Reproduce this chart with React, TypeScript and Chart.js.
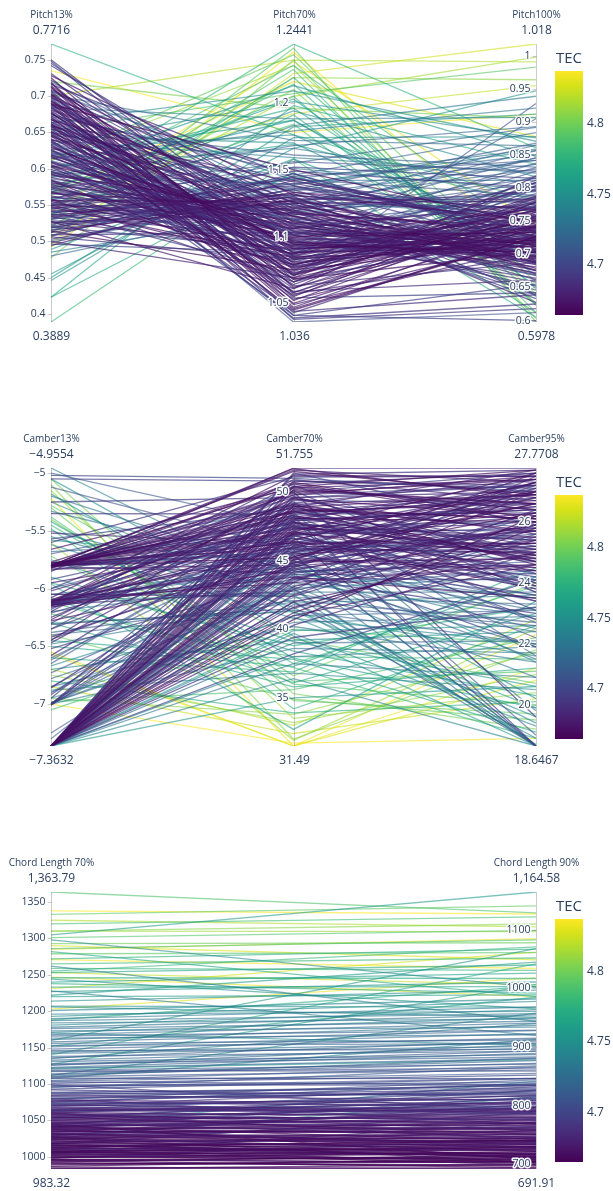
import React, { useEffect, useRef } from "react";
import { Chart, registerables } from "chart.js";

Chart.register(...registerables);

// ---------- TEC colour scale (shared by all three panels) ----------
const tecMin = 4.6645;
const tecMax = 4.8376;
const tecTicks = [4.7, 4.75, 4.8];
const viridisStops: [number, string][] = [
  [0, "#440154"], [0.0627, "#48186a"], [0.1255, "#472d7b"], [0.1882, "#424086"],
  [0.251, "#3b528b"], [0.3137, "#33638d"], [0.3765, "#2c728e"], [0.4392, "#26828e"],
  [0.502, "#21918c"], [0.5647, "#1fa088"], [0.6275, "#28ae80"], [0.6902, "#3fbc73"],
  [0.7529, "#5ec962"], [0.8157, "#84d44b"], [0.8784, "#addc30"], [0.9412, "#d8e219"],
  [1, "#fde725"],
];

// ---------- Panel 1: pitch ----------
const pitchNames = ["Pitch13%", "Pitch70%", "Pitch100%"];
const pitchMin = [0.3889, 1.036, 0.5978];
const pitchMax = [0.7716, 1.2441, 1.018];
const pitchMinText = ["0.3889", "1.036", "0.5978"];
const pitchMaxText = ["0.7716", "1.2441", "1.018"];
const pitch13Ticks = [0.4, 0.45, 0.5, 0.55, 0.6, 0.65, 0.7, 0.75];
const pitch70Ticks = [1.05, 1.1, 1.15, 1.2];
const pitch100Ticks = [0.6, 0.65, 0.7, 0.75, 0.8, 0.85, 0.9, 0.95, 1];

const pitch13 = [
  0.725, 0.718, 0.712, 0.705, 0.701, 0.696, 0.690, 0.684, 0.679, 0.673,
  0.668, 0.662, 0.657, 0.651, 0.646, 0.641, 0.636, 0.630, 0.625, 0.620,
  0.615, 0.610, 0.604, 0.599, 0.594, 0.588, 0.583, 0.577, 0.571, 0.566,
  0.561, 0.556, 0.551, 0.546, 0.541, 0.536, 0.531, 0.526, 0.521, 0.515,
  0.731, 0.722, 0.714, 0.708, 0.699, 0.693, 0.687, 0.676, 0.664, 0.655,
  0.649, 0.638, 0.627, 0.617, 0.606, 0.596, 0.585, 0.574, 0.563, 0.552,
  0.548, 0.539, 0.532, 0.524, 0.518, 0.512, 0.507, 0.503, 0.498, 0.494,
  0.712, 0.703, 0.694, 0.686, 0.678, 0.671, 0.665, 0.659, 0.645, 0.633,
  0.623, 0.609, 0.592, 0.581, 0.568, 0.558, 0.545, 0.534, 0.528, 0.519,
  0.676, 0.661, 0.648, 0.634, 0.622, 0.611, 0.597, 0.586, 0.572, 0.559,
  0.719, 0.706, 0.688, 0.672, 0.654, 0.639, 0.621, 0.603, 0.589, 0.574,
  0.455, 0.450, 0.446, 0.423, 0.489, 0.512, 0.538, 0.566, 0.592, 0.618,
  0.3889, 0.423, 0.7716, 0.566, 0.573, 0.611, 0.652, 0.720, 0.505, 0.548,
  0.492, 0.497, 0.520, 0.563, 0.735, 0.612, 0.574, 0.541, 0.529, 0.700,
  0.750, 0.748, 0.745, 0.742, 0.668, 0.655, 0.698, 0.640, 0.617, 0.681,
  0.602, 0.593, 0.584, 0.576, 0.569, 0.557, 0.547, 0.537, 0.527, 0.509,
  0.560, 0.553, 0.544, 0.535, 0.523, 0.516, 0.508, 0.501, 0.485, 0.480,
  0.728, 0.716, 0.709, 0.697, 0.689, 0.683, 0.674, 0.667, 0.659, 0.650,
  0.558, 0.550, 0.542, 0.534, 0.527, 0.520, 0.514, 0.506, 0.500, 0.496,
  0.702, 0.692, 0.681, 0.670, 0.660, 0.650, 0.640, 0.629, 0.619, 0.608,
  0.659, 0.644, 0.632, 0.618, 0.603, 0.591, 0.579, 0.567, 0.555, 0.543,
  0.702, 0.684, 0.657, 0.633, 0.614, 0.596, 0.578, 0.556, 0.537, 0.663,
  0.571, 0.534, 0.588, 0.512, 0.626, 0.548, 0.601, 0.477, 0.645, 0.520,
  0.718, 0.707, 0.690, 0.677, 0.662, 0.647, 0.637, 0.626, 0.700, 0.688,
  0.668, 0.652, 0.637, 0.624, 0.609, 0.595, 0.580, 0.565, 0.549, 0.530,
];
const pitch70 = [
  1.062, 1.068, 1.071, 1.058, 1.075, 1.066, 1.080, 1.072, 1.085, 1.078,
  1.083, 1.090, 1.076, 1.094, 1.088, 1.099, 1.081, 1.096, 1.102, 1.092,
  1.105, 1.098, 1.110, 1.101, 1.115, 1.107, 1.112, 1.119, 1.104, 1.122,
  1.117, 1.126, 1.113, 1.129, 1.121, 1.132, 1.124, 1.118, 1.135, 1.127,
  1.094, 1.101, 1.088, 1.112, 1.097, 1.106, 1.118, 1.091, 1.109, 1.115,
  1.071, 1.079, 1.066, 1.086, 1.074, 1.093, 1.082, 1.099, 1.087, 1.106,
  1.138, 1.131, 1.144, 1.125, 1.140, 1.133, 1.147, 1.128, 1.136, 1.142,
  1.052, 1.047, 1.055, 1.043, 1.058, 1.050, 1.061, 1.045, 1.056, 1.064,
  1.104, 1.097, 1.113, 1.108, 1.120, 1.101, 1.116, 1.125, 1.110, 1.130,
  1.085, 1.093, 1.078, 1.101, 1.088, 1.112, 1.095, 1.119, 1.106, 1.124,
  1.128, 1.142, 1.121, 1.151, 1.135, 1.159, 1.146, 1.166, 1.139, 1.155,
  1.166, 1.182, 1.174, 1.198, 1.158, 1.191, 1.145, 1.205, 1.169, 1.187,
  1.158, 1.148, 1.176, 1.244, 1.228, 1.236, 1.207, 1.196, 1.219, 1.184,
  1.222, 1.238, 1.205, 1.216, 1.178, 1.228, 1.192, 1.231, 1.210, 1.232,
  1.095, 1.083, 1.108, 1.118, 1.036, 1.039, 1.041, 1.044, 1.086, 1.070,
  1.073, 1.081, 1.069, 1.089, 1.077, 1.093, 1.084, 1.098, 1.091, 1.103,
  1.149, 1.143, 1.156, 1.137, 1.152, 1.130, 1.145, 1.127, 1.118, 1.123,
  1.131, 1.144, 1.125, 1.138, 1.150, 1.121, 1.147, 1.133, 1.128, 1.141,
  1.066, 1.079, 1.072, 1.085, 1.061, 1.090, 1.075, 1.083, 1.069, 1.088,
  1.111, 1.096, 1.123, 1.104, 1.117, 1.092, 1.126, 1.100, 1.114, 1.095,
  1.077, 1.115, 1.084, 1.108, 1.091, 1.120, 1.079, 1.103, 1.087, 1.111,
  1.172, 1.188, 1.161, 1.201, 1.179, 1.213, 1.168, 1.194, 1.183, 1.209,
  1.203, 1.225, 1.187, 1.241, 1.176, 1.214, 1.196, 1.232, 1.170, 1.219,
  1.049, 1.057, 1.046, 1.063, 1.053, 1.068, 1.041, 1.059, 1.054, 1.038,
  1.101, 1.126, 1.109, 1.134, 1.116, 1.139, 1.106, 1.131, 1.119, 1.143,
];
const pitch100 = [
  0.742, 0.728, 0.755, 0.768, 0.716, 0.737, 0.722, 0.749, 0.705, 0.731,
  0.719, 0.741, 0.758, 0.703, 0.726, 0.712, 0.773, 0.695, 0.733, 0.751,
  0.708, 0.724, 0.697, 0.739, 0.688, 0.715, 0.702, 0.684, 0.729, 0.693,
  0.707, 0.679, 0.722, 0.691, 0.713, 0.676, 0.699, 0.734, 0.686, 0.718,
  0.694, 0.681, 0.712, 0.669, 0.703, 0.688, 0.662, 0.721, 0.676, 0.671,
  0.786, 0.772, 0.799, 0.764, 0.781, 0.757, 0.792, 0.769, 0.803, 0.776,
  0.742, 0.758, 0.727, 0.771, 0.736, 0.749, 0.718, 0.783, 0.754, 0.739,
  0.764, 0.748, 0.779, 0.732, 0.757, 0.741, 0.769, 0.726, 0.752, 0.785,
  0.652, 0.664, 0.641, 0.672, 0.633, 0.658, 0.646, 0.627, 0.668, 0.638,
  0.812, 0.826, 0.804, 0.838, 0.819, 0.846, 0.808, 0.857, 0.831, 0.865,
  0.788, 0.812, 0.846, 0.797, 0.868, 0.823, 0.884, 0.805, 0.857, 0.892,
  0.947, 0.912, 0.878, 0.836, 0.704, 0.652, 0.731, 0.623, 0.774, 0.688,
  0.612, 0.605, 0.782, 0.861, 0.723, 0.658, 0.983, 0.906, 0.964, 0.627,
  1.018, 0.701, 0.998, 0.878, 0.912, 0.640, 0.955, 0.745, 0.625, 0.991,
  0.703, 0.721, 0.689, 0.736, 0.612, 0.625, 0.600, 0.639, 0.905, 0.928,
  0.735, 0.718, 0.744, 0.706, 0.727, 0.699, 0.738, 0.711, 0.724, 0.703,
  0.801, 0.789, 0.826, 0.765, 0.815, 0.778, 0.842, 0.757, 0.795, 0.771,
  0.752, 0.734, 0.781, 0.712, 0.745, 0.796, 0.723, 0.768, 0.706, 0.759,
  0.779, 0.752, 0.803, 0.766, 0.818, 0.741, 0.788, 0.757, 0.809, 0.771,
  0.714, 0.697, 0.728, 0.686, 0.741, 0.708, 0.675, 0.733, 0.691, 0.722,
  0.761, 0.716, 0.744, 0.702, 0.774, 0.689, 0.751, 0.727, 0.766, 0.709,
  0.864, 0.907, 0.832, 0.876, 0.921, 0.848, 0.893, 0.817, 0.939, 0.871,
  0.668, 0.612, 0.703, 0.598, 0.721, 0.636, 0.684, 0.603, 0.695, 0.648,
  0.712, 0.698, 0.727, 0.688, 0.719, 0.704, 0.655, 0.661, 0.642, 0.618,
  0.797, 0.829, 0.786, 0.842, 0.808, 0.851, 0.778, 0.836, 0.815, 0.859,
];
const pitchTec = [
  4.672, 4.681, 4.668, 4.690, 4.676, 4.694, 4.671, 4.685, 4.679, 4.688,
  4.674, 4.683, 4.692, 4.669, 4.687, 4.678, 4.697, 4.673, 4.684, 4.691,
  4.677, 4.686, 4.670, 4.695, 4.682, 4.675, 4.689, 4.680, 4.699, 4.673,
  4.684, 4.671, 4.693, 4.678, 4.688, 4.676, 4.701, 4.682, 4.690, 4.674,
  4.680, 4.687, 4.673, 4.696, 4.683, 4.677, 4.692, 4.670, 4.686, 4.679,
  4.691, 4.684, 4.698, 4.676, 4.689, 4.681, 4.702, 4.673, 4.694, 4.685,
  4.688, 4.697, 4.683, 4.705, 4.692, 4.679, 4.700, 4.687, 4.695, 4.682,
  4.678, 4.685, 4.672, 4.690, 4.681, 4.675, 4.693, 4.670, 4.687, 4.680,
  4.694, 4.687, 4.700, 4.682, 4.696, 4.689, 4.703, 4.685, 4.698, 4.691,
  4.702, 4.708, 4.699, 4.713, 4.705, 4.716, 4.701, 4.711, 4.707, 4.719,
  4.712, 4.725, 4.718, 4.731, 4.715, 4.737, 4.722, 4.728, 4.741, 4.719,
  4.752, 4.761, 4.748, 4.767, 4.756, 4.772, 4.744, 4.778, 4.759, 4.765,
  4.782, 4.770, 4.775, 4.779, 4.786, 4.797, 4.791, 4.803, 4.808, 4.789,
  4.826, 4.834, 4.815, 4.829, 4.837, 4.811, 4.822, 4.831, 4.806, 4.818,
  4.690, 4.698, 4.704, 4.686, 4.705, 4.693, 4.699, 4.688, 4.712, 4.706,
  4.675, 4.683, 4.671, 4.689, 4.678, 4.696, 4.674, 4.686, 4.680, 4.692,
  4.697, 4.712, 4.705, 4.716, 4.701, 4.723, 4.709, 4.727, 4.735, 4.718,
  4.676, 4.689, 4.682, 4.695, 4.671, 4.686, 4.699, 4.678, 4.692, 4.684,
  4.681, 4.674, 4.693, 4.686, 4.679, 4.697, 4.672, 4.688, 4.684, 4.701,
  4.670, 4.683, 4.676, 4.691, 4.673, 4.680, 4.687, 4.669, 4.694, 4.677,
  4.685, 4.672, 4.696, 4.679, 4.688, 4.675, 4.699, 4.682, 4.670, 4.691,
  4.724, 4.739, 4.716, 4.748, 4.731, 4.756, 4.720, 4.743, 4.735, 4.751,
  4.762, 4.787, 4.754, 4.794, 4.745, 4.779, 4.769, 4.801, 4.751, 4.775,
  4.677, 4.684, 4.671, 4.690, 4.680, 4.674, 4.697, 4.686, 4.701, 4.693,
  4.703, 4.714, 4.708, 4.719, 4.706, 4.722, 4.701, 4.717, 4.710, 4.726,
];

// ---------- Panel 2: camber ----------
const camberNames = ["Camber13%", "Camber70%", "Camber95%"];
const camberMin = [-7.3632, 31.49, 18.6467];
const camberMax = [-4.9554, 51.755, 27.7708];
const camberMinText = ["\u22127.3632", "31.49", "18.6467"];
const camberMaxText = ["\u22124.9554", "51.755", "27.7708"];
const camber13Ticks = [-7, -6.5, -6, -5.5, -5];
const camber70Ticks = [35, 40, 45, 50];
const camber95Ticks = [20, 22, 24, 26];

const camber13 = [
  -7.3632, -7.3632, -7.3632, -7.3632, -7.3632, -7.3632, -7.3632, -7.3632, -7.3632, -7.3632,
  -7.3632, -7.3632, -7.3632, -7.3632, -7.3632, -7.3632, -7.3632, -7.3632, -7.3632, -7.3632,
  -7.3632, -7.3632, -7.3632, -7.3632, -7.3632, -7.3632, -7.3632, -7.3632, -7.30, -7.25,
  -5.80, -5.81, -5.79, -5.80, -5.82, -5.80, -5.78, -5.81, -5.80, -5.83,
  -5.79, -5.81, -5.80, -5.82, -5.80, -5.78, -5.81, -5.80, -5.84, -5.77,
  -6.10, -6.12, -6.14, -6.11, -6.15, -6.13, -6.10, -6.16, -6.12, -6.14,
  -6.02, -6.21, -6.28, -6.35, -6.05, -6.42, -6.18, -6.31, -5.95, -6.25,
  -7.00, -7.00, -7.01, -6.99, -7.00, -6.85, -6.92, -6.78, -6.95, -6.88,
  -4.9554, -5.00, -5.05, -5.12, -5.18, -5.25, -5.33, -5.42, -5.50, -5.57,
  -5.62, -5.68, -5.90, -6.05, -6.30, -6.48, -6.62, -6.70, -6.80, -6.90,
  -5.10, -5.15, -5.22, -5.30, -5.38, -6.55, -7.00, -6.70, -5.45, -5.05,
  -5.48, -5.72, -5.96, -6.22, -6.40, -6.60, -6.75, -6.98, -5.28, -6.12,
  -5.85, -6.08, -7.3632, -5.80, -6.20, -5.02, -6.45, -5.80, -7.3632, -6.12,
  -5.80, -6.14, -7.3632, -5.55, -6.35, -7.3632, -5.20, -6.65, -6.10, -5.80,
  -7.3632, -5.80, -6.12, -7.3632, -5.81, -6.14, -7.3632, -6.00, -5.80, -6.11,
  -7.3632, -7.3632, -7.3632, -7.3632, -7.3632, -7.3632, -7.3632, -7.3632, -7.3632, -7.3632,
  -6.57, -6.85, -5.60, -6.95, -5.95, -6.30, -5.40, -7.3632, -7.05, -6.45,
  -5.80, -5.79, -5.81, -5.80, -5.82, -5.80, -5.78, -5.81, -5.80, -5.79,
  -6.11, -6.13, -6.12, -6.15, -6.10, -6.14, -6.12, -6.13, -6.16, -6.11,
  -7.3632, -7.3632, -7.3632, -7.3632, -7.3632, -7.3632, -7.3632, -7.3632, -7.3632, -7.3632,
  -5.35, -5.52, -5.66, -5.92, -6.27, -6.44, -6.58, -6.73, -6.86, -5.05,
  -7.3632, -5.80, -6.13, -7.3632, -6.05, -5.81, -7.3632, -6.40, -5.70, -6.90,
  -5.25, -5.75, -6.20, -6.50, -6.95, -7.3632, -5.58, -6.08, -6.67, -7.3632,
  -5.80, -6.12, -7.3632, -5.81, -6.30, -5.60, -7.3632, -6.14, -5.80, -6.00,
  -7.00, -7.00, -6.99, -7.01, -6.52, -6.47, -6.60, -6.38, -6.85, -7.00,
];
const camber70 = [
  41.2, 42.5, 43.8, 44.6, 45.5, 46.3, 47.1, 48.0, 48.8, 49.5,
  38.2, 39.4, 40.3, 41.8, 43.1, 44.2, 45.0, 46.8, 47.6, 50.2,
  36.4, 37.5, 39.0, 42.0, 44.0, 46.0, 48.5, 50.5, 45.7, 43.5,
  45.2, 46.1, 47.0, 47.8, 48.5, 49.2, 45.9, 46.6, 48.1, 44.7,
  47.4, 48.9, 46.4, 49.8, 45.5, 47.3, 44.1, 48.3, 46.8, 50.4,
  43.4, 44.8, 46.2, 45.6, 47.5, 44.0, 48.7, 45.1, 46.9, 42.8,
  47.9, 46.0, 44.5, 49.0, 42.4, 45.3, 50.1, 41.5, 46.5, 48.2,
  46.0, 43.2, 48.4, 40.5, 38.6, 44.9, 47.2, 42.3, 49.4, 36.8,
  43.0, 47.5, 41.2, 45.8, 39.5, 49.6, 44.3, 37.9, 42.7, 48.8,
  40.8, 46.6, 38.4, 44.6, 35.8, 42.0, 47.7, 39.2, 33.9, 45.4,
  32.0, 33.5, 31.49, 34.8, 36.2, 31.49, 31.7, 33.0, 37.5, 35.3,
  34.2, 36.0, 32.7, 38.0, 34.9, 36.9, 33.2, 35.6, 39.3, 37.2,
  51.755, 51.2, 50.8, 51.5, 50.6, 51.0, 50.3, 49.9, 51.4, 50.9,
  48.2, 45.4, 43.0, 41.6, 46.7, 39.7, 44.1, 47.9, 42.5, 50.0,
  47.0, 48.6, 45.9, 44.9, 46.3, 49.3, 43.7, 47.6, 45.0, 44.4,
  40.7, 42.9, 44.4, 45.3, 46.5, 47.4, 48.2, 49.0, 43.4, 41.0,
  31.49, 32.4, 31.9, 33.8, 38.8, 41.3, 36.6, 35.0, 40.0, 37.8,
  46.3, 47.7, 49.1, 48.0, 50.6, 45.7, 47.1, 49.6, 46.9, 48.6,
  44.6, 46.4, 48.0, 45.2, 47.3, 43.8, 49.1, 46.0, 44.3, 47.8,
  42.0, 43.6, 45.1, 46.1, 46.9, 47.8, 48.6, 49.7, 44.8, 41.6,
  48.4, 46.2, 50.3, 47.5, 49.5, 45.8, 48.9, 44.7, 47.0, 50.8,
  47.2, 45.6, 43.9, 46.8, 42.6, 48.3, 44.5, 41.4, 49.0, 43.1,
  41.9, 39.1, 43.4, 37.3, 40.9, 38.0, 44.8, 36.1, 42.9, 39.9,
  51.6, 50.1, 51.3, 50.7, 49.6, 51.1, 50.4, 49.8, 51.7, 50.0,
  44.2, 47.9, 41.0, 45.6, 43.7, 48.6, 46.4, 42.1, 40.2, 49.2,
];
const camber95 = [
  25.8, 26.4, 24.9, 27.1, 25.3, 26.8, 24.4, 27.4, 26.1, 25.6,
  24.1, 23.2, 25.0, 22.6, 26.0, 24.6, 27.6, 23.8, 25.5, 26.6,
  18.6467, 20.9, 22.1, 18.6467, 23.5, 21.4, 19.8, 24.3, 22.8, 26.2,
  26.3, 25.7, 27.0, 24.8, 26.7, 25.2, 27.3, 24.5, 26.0, 25.9,
  25.4, 26.9, 24.2, 27.5, 23.6, 26.5, 25.1, 24.7, 26.2, 27.7,
  24.6, 25.8, 23.9, 26.6, 25.0, 24.3, 26.1, 27.2, 23.4, 25.5,
  26.4, 25.3, 27.0, 24.0, 25.9, 26.8, 23.7, 25.6, 27.3, 24.9,
  25.2, 24.4, 26.3, 22.9, 21.7, 25.7, 27.1, 23.3, 26.6, 20.5,
  24.2, 26.0, 21.6, 25.1, 18.6467, 27.2, 22.5, 19.9, 23.7, 25.8,
  22.0, 24.7, 20.3, 23.1, 21.2, 19.4, 25.4, 22.4, 20.1, 18.6467,
  21.8, 20.4, 22.3, 19.7, 21.1, 20.8, 18.9, 22.8, 23.9, 19.2,
  22.6, 20.0, 23.4, 21.5, 19.5, 24.5, 21.0, 22.2, 20.7, 18.9,
  27.7708, 27.5, 27.2, 26.9, 27.6, 27.0, 26.4, 27.4, 25.9, 26.7,
  18.6467, 18.6467, 18.6467, 18.9, 18.6467, 19.3, 18.6467, 19.0, 18.7, 19.6,
  24.9, 24.7, 25.0, 24.8, 22.2, 21.6, 23.0, 22.7, 21.9, 23.5,
  26.2, 27.0, 25.4, 26.6, 27.3, 25.1, 26.9, 25.7, 27.5, 24.6,
  21.2, 20.2, 22.5, 21.7, 23.2, 19.9, 24.0, 20.6, 22.0, 19.1,
  25.3, 26.6, 24.6, 27.2, 26.0, 25.7, 27.6, 24.9, 26.3, 25.1,
  25.2, 23.8, 26.4, 24.5, 25.7, 23.5, 26.9, 24.1, 25.9, 24.8,
  25.0, 26.3, 24.4, 27.0, 25.8, 23.9, 26.6, 24.7, 27.3, 25.4,
  26.8, 25.5, 27.4, 24.3, 26.2, 25.0, 27.7, 23.6, 26.0, 27.1,
  22.8, 23.4, 21.9, 24.0, 22.4, 23.1, 21.5, 22.0, 23.7, 20.9,
  23.6, 20.6, 22.9, 24.2, 19.6, 21.9, 20.2, 23.0, 18.6467, 22.6,
  27.3, 26.6, 27.7, 26.1, 27.0, 27.5, 26.4, 27.2, 26.8, 27.6,
  24.7, 26.5, 23.1, 25.6, 24.1, 26.9, 25.3, 22.7, 21.4, 27.4,
];
const camberTec = [
  4.672, 4.685, 4.679, 4.690, 4.676, 4.694, 4.681, 4.688, 4.670, 4.683,
  4.701, 4.695, 4.688, 4.708, 4.677, 4.692, 4.684, 4.712, 4.680, 4.673,
  4.742, 4.731, 4.722, 4.715, 4.736, 4.748, 4.725, 4.711, 4.719, 4.705,
  4.671, 4.680, 4.676, 4.688, 4.673, 4.692, 4.678, 4.685, 4.669, 4.683,
  4.686, 4.674, 4.695, 4.677, 4.701, 4.682, 4.690, 4.679, 4.697, 4.672,
  4.678, 4.687, 4.692, 4.674, 4.683, 4.699, 4.671, 4.689, 4.680, 4.696,
  4.685, 4.693, 4.677, 4.702, 4.688, 4.681, 4.696, 4.704, 4.675, 4.690,
  4.702, 4.715, 4.694, 4.727, 4.733, 4.709, 4.688, 4.721, 4.698, 4.744,
  4.739, 4.712, 4.748, 4.706, 4.755, 4.698, 4.731, 4.762, 4.727, 4.703,
  4.744, 4.718, 4.757, 4.724, 4.768, 4.736, 4.711, 4.749, 4.773, 4.729,
  4.806, 4.812, 4.833, 4.796, 4.788, 4.829, 4.838, 4.818, 4.783, 4.802,
  4.776, 4.791, 4.764, 4.781, 4.797, 4.770, 4.810, 4.787, 4.793, 4.779,
  4.684, 4.677, 4.692, 4.671, 4.689, 4.702, 4.680, 4.674, 4.698, 4.686,
  4.703, 4.721, 4.714, 4.735, 4.697, 4.742, 4.729, 4.710, 4.751, 4.693,
  4.672, 4.679, 4.683, 4.676, 4.705, 4.712, 4.696, 4.708, 4.701, 4.717,
  4.669, 4.675, 4.681, 4.671, 4.687, 4.678, 4.684, 4.673, 4.690, 4.680,
  4.835, 4.824, 4.815, 4.808, 4.772, 4.766, 4.799, 4.758, 4.785, 4.763,
  4.675, 4.683, 4.670, 4.689, 4.678, 4.694, 4.672, 4.686, 4.680, 4.691,
  4.684, 4.676, 4.692, 4.681, 4.698, 4.673, 4.687, 4.695, 4.679, 4.690,
  4.678, 4.690, 4.671, 4.684, 4.697, 4.676, 4.688, 4.681, 4.694, 4.674,
  4.693, 4.686, 4.679, 4.701, 4.674, 4.696, 4.683, 4.705, 4.688, 4.699,
  4.699, 4.706, 4.712, 4.694, 4.719, 4.703, 4.725, 4.716, 4.709, 4.731,
  4.741, 4.758, 4.733, 4.764, 4.748, 4.737, 4.755, 4.771, 4.744, 4.752,
  4.682, 4.676, 4.690, 4.671, 4.685, 4.694, 4.679, 4.688, 4.673, 4.696,
  4.706, 4.692, 4.719, 4.701, 4.698, 4.686, 4.708, 4.713, 4.727, 4.689,
];

// ---------- Panel 3: chord length ----------
const chordNames = ["Chord Length 70%", "Chord Length 90%"];
const chordMin = [983.32, 691.91];
const chordMax = [1363.79, 1164.58];
const chordMinText = ["983.32", "691.91"];
const chordMaxText = ["1,363.79", "1,164.58"];
const chord70Ticks = [1000, 1050, 1100, 1150, 1200, 1250, 1300, 1350];
const chord90Ticks = [700, 800, 900, 1000, 1100];

const chord70 = [
  996, 1000, 1003, 1006, 1009, 1012, 1015, 1018, 1021, 1024,
  1026, 1028, 1031, 1033, 1036, 1038, 1041, 1043, 1046, 1048,
  1051, 1053, 1056, 1058, 1061, 1063, 1066, 1068, 1071, 1074,
  998, 1004, 1011, 1017, 1023, 1029, 1034, 1040, 1045, 1052,
  1010, 1016, 1022, 1027, 1032, 1037, 1042, 1047, 1055, 1060,
  983.32, 986, 989, 992, 994, 997, 1001, 1005, 1008, 1013,
  1062, 1065, 1069, 1073, 1077, 1081, 1085, 1089, 1093, 1097,
  1101, 1105, 1110, 1114, 1119, 1123, 1128, 1133, 1138, 1144,
  1148, 1153, 1158, 1163, 1168, 1173, 1178, 1184, 1190, 1196,
  1201, 1207, 1214, 1220, 1227, 1233, 1240, 1246, 1253, 1259,
  1265, 1272, 1279, 1286, 1293, 1301, 1310, 1320, 1333, 1363.79,
  1338, 1290, 1285, 1253, 1203, 1325, 1271, 1231, 1310, 1247,
  1305, 1298, 1282, 1262, 1244, 1228, 1112, 1127, 1140, 1160,
  1019, 1025, 1030, 1035, 1039, 1044, 1049, 1054, 1059, 1064,
  1072, 1079, 1087, 1095, 1103, 1111, 1118, 1126, 1042, 1025,
  1002, 1007, 1013, 1019, 1024, 1030, 1035, 1041, 1047, 1054,
  990, 1008, 1027, 1045, 995, 1016, 1038, 1060, 1080, 1099,
  999, 1005, 1010, 1014, 1020, 1026, 1032, 1037, 1043, 1050,
  1057, 1063, 1067, 1071, 1076, 1080, 1084, 1088, 1092, 1096,
  1099, 1104, 1108, 1113, 1117, 1122, 1126, 1131, 1136, 1142,
  1146, 1151, 1156, 1161, 1166, 1171, 1176, 1181, 1187, 1193,
  1001, 1006, 1012, 1018, 1023, 1028, 1033, 1039, 1044, 1058,
  1040, 1046, 1050, 1055, 1060, 1065, 1070, 1075, 1078, 1083,
  1108, 1121, 1135, 1152, 1170, 1188, 1206, 1222, 1238, 1255,
  984, 987, 991, 993, 996, 999, 1003, 1007, 1011, 1015,
];
const chord90 = [
  712, 709, 721, 718, 728, 724, 735, 731, 741, 738,
  744, 752, 748, 757, 754, 763, 760, 769, 765, 774,
  771, 779, 776, 785, 781, 790, 787, 795, 792, 801,
  745, 772, 758, 789, 777, 803, 796, 815, 809, 826,
  703, 711, 716, 722, 727, 733, 739, 746, 751, 758,
  700, 691.91, 705, 697, 714, 702, 719, 707, 726, 713,
  806, 798, 817, 811, 826, 821, 835, 830, 846, 840,
  852, 868, 861, 877, 871, 889, 883, 898, 893, 907,
  915, 906, 928, 921, 941, 934, 955, 948, 968, 961,
  982, 968, 997, 989, 1011, 1003, 1026, 1017, 1040, 1031,
  1052, 1067, 1061, 1083, 1078, 1099, 1110, 1122, 1141, 1129,
  1127, 1049, 1085, 1006, 1018, 1105, 1034, 1062, 1097, 986,
  1164.58, 1002, 986, 944, 965, 920, 958, 1007, 1042, 1068,
  733, 740, 746, 753, 759, 766, 772, 779, 786, 793,
  787, 844, 819, 866, 836, 881, 859, 904, 842, 815,
  726, 734, 741, 748, 724, 762, 756, 781, 770, 797,
  706, 699, 703, 708, 694, 717, 729, 742, 768, 792,
  718, 729, 737, 730, 745, 751, 764, 770, 778, 784,
  775, 806, 790, 812, 798, 823, 809, 834, 815, 847,
  835, 855, 846, 872, 864, 880, 893, 887, 910, 901,
  896, 923, 912, 937, 929, 950, 944, 964, 957, 978,
  705, 716, 723, 712, 737, 743, 735, 750, 761, 768,
  790, 797, 805, 812, 818, 825, 832, 838, 803, 828,
  913, 878, 940, 985, 903, 1004, 951, 1045, 992, 1071,
  694, 710, 699, 716, 703, 721, 708, 730, 714, 739,
];
const chordTec = [
  4.667, 4.672, 4.669, 4.675, 4.671, 4.678, 4.673, 4.680, 4.676, 4.682,
  4.670, 4.677, 4.674, 4.681, 4.679, 4.684, 4.672, 4.686, 4.683, 4.675,
  4.679, 4.687, 4.682, 4.690, 4.676, 4.693, 4.685, 4.688, 4.681, 4.695,
  4.684, 4.690, 4.678, 4.694, 4.686, 4.697, 4.680, 4.699, 4.691, 4.702,
  4.668, 4.671, 4.666, 4.673, 4.669, 4.675, 4.670, 4.677, 4.672, 4.679,
  4.670, 4.668, 4.673, 4.666, 4.676, 4.671, 4.679, 4.674, 4.681, 4.677,
  4.689, 4.696, 4.692, 4.700, 4.694, 4.703, 4.698, 4.706, 4.701, 4.709,
  4.704, 4.712, 4.708, 4.716, 4.710, 4.719, 4.714, 4.722, 4.717, 4.725,
  4.713, 4.721, 4.718, 4.727, 4.723, 4.731, 4.728, 4.736, 4.733, 4.740,
  4.744, 4.752, 4.748, 4.759, 4.755, 4.766, 4.762, 4.771, 4.768, 4.777,
  4.781, 4.773, 4.792, 4.786, 4.799, 4.791, 4.807, 4.784, 4.795, 4.788,
  4.838, 4.829, 4.834, 4.822, 4.831, 4.818, 4.836, 4.826, 4.812, 4.833,
  4.758, 4.745, 4.767, 4.739, 4.752, 4.735, 4.748, 4.762, 4.773, 4.756,
  4.674, 4.669, 4.677, 4.672, 4.680, 4.675, 4.683, 4.678, 4.686, 4.681,
  4.697, 4.705, 4.699, 4.711, 4.703, 4.716, 4.707, 4.720, 4.745, 4.751,
  4.671, 4.676, 4.667, 4.679, 4.673, 4.682, 4.670, 4.685, 4.678, 4.688,
  4.666, 4.669, 4.672, 4.670, 4.668, 4.674, 4.676, 4.679, 4.690, 4.697,
  4.673, 4.668, 4.678, 4.671, 4.684, 4.675, 4.680, 4.670, 4.687, 4.677,
  4.683, 4.690, 4.679, 4.695, 4.687, 4.698, 4.684, 4.702, 4.693, 4.706,
  4.700, 4.709, 4.703, 4.713, 4.706, 4.718, 4.711, 4.721, 4.715, 4.727,
  4.712, 4.724, 4.719, 4.730, 4.716, 4.735, 4.726, 4.741, 4.732, 4.746,
  4.666, 4.670, 4.673, 4.668, 4.676, 4.671, 4.679, 4.674, 4.682, 4.677,
  4.688, 4.692, 4.685, 4.696, 4.689, 4.699, 4.693, 4.703, 4.681, 4.697,
  4.742, 4.756, 4.737, 4.763, 4.749, 4.771, 4.744, 4.759, 4.768, 4.779,
  4.669, 4.666, 4.671, 4.668, 4.673, 4.667, 4.675, 4.670, 4.678, 4.672,
];

// ---------- drawing helpers ----------
const TEXT_COLOR = "#2a3f5f";
const AXIS_COLOR = "rgba(68,68,68,0.28)";
const FONT = '"Open Sans", "DejaVu Sans", sans-serif';

type Dim = {
  name: string;
  min: number;
  max: number;
  minText: string;
  maxText: string;
  ticks: number[];
  values: number[];
};
type PanelSpec = { dims: Dim[]; tec: number[] };

function hexToRgb(h: string): number[] {
  return [1, 3, 5].map((i) => parseInt(h.slice(i, i + 2), 16));
}

function viridis(t: number): number[] {
  const u = Math.min(1, Math.max(0, t));
  for (let i = 1; i < viridisStops.length; i++) {
    const [p1, c1] = viridisStops[i];
    if (u <= p1) {
      const [p0, c0] = viridisStops[i - 1];
      const f = (u - p0) / (p1 - p0);
      const a = hexToRgb(c0);
      const b = hexToRgb(c1);
      return a.map((v, k) => Math.round(v + (b[k] - v) * f));
    }
  }
  return hexToRgb(viridisStops[viridisStops.length - 1][1]);
}

// darker (low TEC) lines are drawn a little more opaque so the dense bundles read as solid
function tecColor(tec: number): string {
  const [r, g, b] = viridis((tec - tecMin) / (tecMax - tecMin));
  const alpha = tec < 4.705 ? 0.7 : 0.6;
  return `rgba(${r},${g},${b},${alpha})`;
}

function fmtTick(v: number): string {
  return String(v).replace("-", "\u2212");
}

function haloText(ctx: CanvasRenderingContext2D, text: string, x: number, y: number, align: CanvasTextAlign) {
  ctx.textAlign = align;
  ctx.textBaseline = "middle";
  ctx.lineJoin = "round";
  ctx.strokeStyle = "rgba(255,255,255,0.95)";
  ctx.lineWidth = 3;
  ctx.strokeText(text, x, y);
  ctx.fillStyle = TEXT_COLOR;
  ctx.fillText(text, x, y);
}

function makeDecor(spec: PanelSpec) {
  return {
    id: "parcoordsDecor",
    afterDatasetsDraw(chart: any) {
      const ctx: CanvasRenderingContext2D = chart.ctx;
      const xs = chart.scales.x;
      const { top, bottom } = chart.chartArea;
      ctx.save();
      spec.dims.forEach((d, i) => {
        const ys = chart.scales["y" + i];
        const x = Math.round(xs.getPixelForValue(i)) + 0.5;
        ctx.strokeStyle = AXIS_COLOR;
        ctx.lineWidth = 1;
        ctx.beginPath();
        ctx.moveTo(x, top);
        ctx.lineTo(x, bottom);
        ctx.stroke();
        ctx.font = `10.5px ${FONT}`;
        d.ticks.forEach((t) => {
          const y = Math.round(ys.getPixelForValue(t)) + 0.5;
          ctx.strokeStyle = AXIS_COLOR;
          ctx.lineWidth = 1;
          ctx.beginPath();
          ctx.moveTo(x - 4, y);
          ctx.lineTo(x, y);
          ctx.stroke();
          haloText(ctx, fmtTick(t), x - 6, y, "right");
        });
        ctx.textAlign = "center";
        ctx.textBaseline = "middle";
        ctx.fillStyle = TEXT_COLOR;
        ctx.font = `10px ${FONT}`;
        ctx.fillText(d.name, x, top - 29);
        ctx.font = `12px ${FONT}`;
        ctx.fillText(d.maxText, x, top - 13);
        ctx.fillText(d.minText, x, bottom + 15);
      });

      // colour bar
      const cbL = 555;
      const cbW = 28;
      const cbTop = top + 27;
      const cbBot = bottom - 7;
      const grad = ctx.createLinearGradient(0, cbBot, 0, cbTop);
      viridisStops.forEach(([p, c]) => grad.addColorStop(p, c));
      ctx.fillStyle = grad;
      ctx.fillRect(cbL, cbTop, cbW, cbBot - cbTop);
      ctx.fillStyle = TEXT_COLOR;
      ctx.font = `15px ${FONT}`;
      ctx.textAlign = "center";
      ctx.textBaseline = "middle";
      ctx.fillText("TEC", cbL + cbW / 2, top + 15);
      ctx.font = `12px ${FONT}`;
      ctx.textAlign = "left";
      tecTicks.forEach((t) => {
        const y = cbBot - ((t - tecMin) / (tecMax - tecMin)) * (cbBot - cbTop);
        ctx.fillText(String(t), cbL + cbW + 4, y);
      });
      ctx.restore();
    },
  };
}

function buildSpec(
  names: string[], mins: number[], maxs: number[], minTexts: string[], maxTexts: string[],
  ticks: number[][], values: number[][], tec: number[]
): PanelSpec {
  return {
    dims: names.map((name, i) => ({
      name, min: mins[i], max: maxs[i], minText: minTexts[i], maxText: maxTexts[i],
      ticks: ticks[i], values: values[i],
    })),
    tec,
  };
}

const pitchSpec = buildSpec(pitchNames, pitchMin, pitchMax, pitchMinText, pitchMaxText,
  [pitch13Ticks, pitch70Ticks, pitch100Ticks], [pitch13, pitch70, pitch100], pitchTec);
const camberSpec = buildSpec(camberNames, camberMin, camberMax, camberMinText, camberMaxText,
  [camber13Ticks, camber70Ticks, camber95Ticks], [camber13, camber70, camber95], camberTec);
const chordSpec = buildSpec(chordNames, chordMin, chordMax, chordMinText, chordMaxText,
  [chord70Ticks, chord90Ticks], [chord70, chord90], chordTec);

const W = 613;
const H = 360;

function ParcoordsPanel({ spec, top, padBottom }: { spec: PanelSpec; top: number; padBottom: number }) {
  const ref = useRef<HTMLCanvasElement>(null);
  useEffect(() => {
    if (!ref.current) return;
    const n = spec.tec.length;
    const order = Array.from({ length: n }, (_, i) => i).sort((a, b) => spec.tec[a] - spec.tec[b]);
    const datasets = order.map((i) => ({
      data: spec.dims.map((d) => (d.values[i] - d.min) / (d.max - d.min)),
      borderColor: tecColor(spec.tec[i]),
      borderWidth: 1.3,
      pointRadius: 0,
      tension: 0,
      fill: false,
      yAxisID: "yn",
    }));
    const scales: any = {
      x: { type: "category", labels: spec.dims.map((d) => d.name), offset: false, display: false },
      yn: { type: "linear", min: 0, max: 1, display: false },
    };
    spec.dims.forEach((d, i) => {
      scales["y" + i] = { type: "linear", min: d.min, max: d.max, display: false };
    });
    const chart = new Chart(ref.current, {
      type: "line",
      data: { labels: spec.dims.map((d) => d.name), datasets },
      options: {
        responsive: false,
        animation: false,
        events: [],
        layout: { padding: { left: 51, right: W - 536, top: 44, bottom: padBottom } },
        scales,
        plugins: { legend: { display: false }, tooltip: { enabled: false } },
      },
      plugins: [makeDecor(spec)],
    } as any);
    return () => chart.destroy();
  }, [spec, padBottom]);
  return (
    <canvas
      ref={ref}
      width={W}
      height={H}
      style={{ position: "absolute", left: 0, top, width: W, height: H }}
    />
  );
}

export default function App() {
  return (
    <div style={{ position: "absolute", left: 0, top: 0, width: W, height: 1191, background: "#fff" }}>
      <ParcoordsPanel spec={pitchSpec} top={0} padBottom={38} />
      <ParcoordsPanel spec={camberSpec} top={424} padBottom={38} />
      <ParcoordsPanel spec={chordSpec} top={848} padBottom={39} />
    </div>
  );
}
